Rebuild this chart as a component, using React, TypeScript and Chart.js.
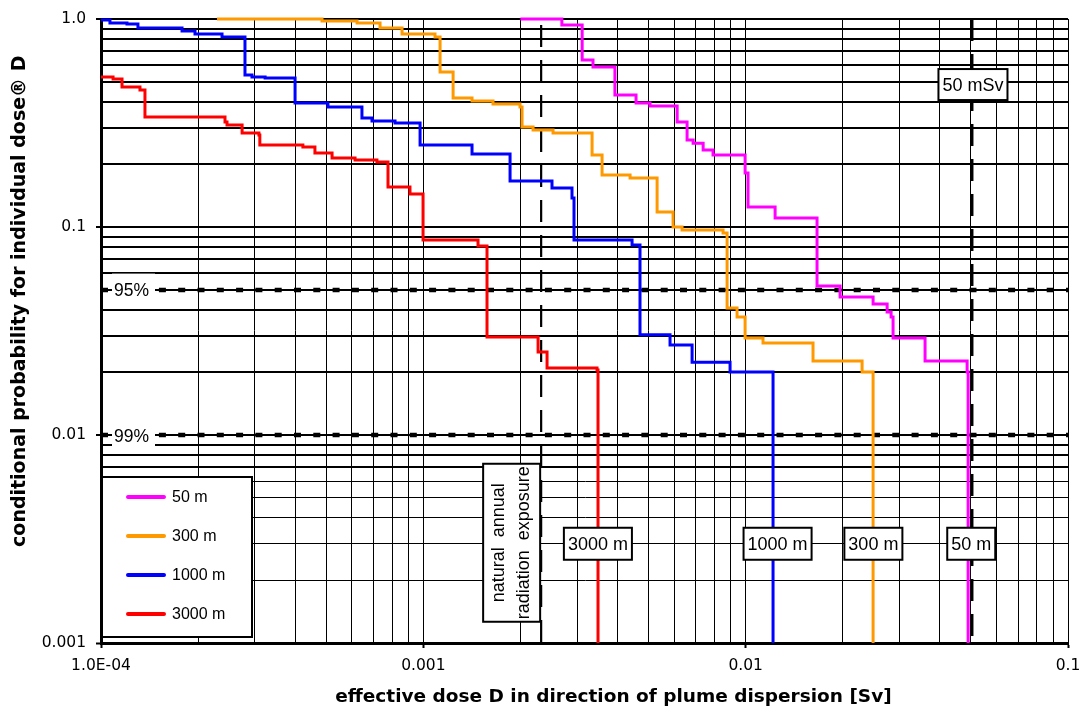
import React, { useEffect, useRef } from 'react';
import { Chart, registerables } from 'chart.js';

Chart.register(...registerables);

const FONT = '"Liberation Sans", Arial, Helvetica, sans-serif';
const AXIS_FONT = '"DejaVu Sans", Verdana, sans-serif';

// ---------------- data ----------------
const seriesNames = ['50 m', '300 m', '1000 m', '3000 m'];
const seriesColors = ['#FF00FF', '#FF9900', '#0000FF', '#FF0000'];

const dose50m = [0.002, 0.00269, 0.00311, 0.00336, 0.00393, 0.00457, 0.00505, 0.00613, 0.00658, 0.00687, 0.00738, 0.00792, 0.00996, 0.01017, 0.01234, 0.01665, 0.01963, 0.02485, 0.02747, 0.02826, 0.02866, 0.03602, 0.04864, 0.049];
const prob50m = [1.0, 0.936, 0.635, 0.588, 0.431, 0.395, 0.382, 0.32, 0.262, 0.253, 0.2345, 0.222, 0.1818, 0.1248, 0.1105, 0.052, 0.0461, 0.0426, 0.039, 0.0369, 0.02925, 0.0227, 0.0201, 0.001];

const dose300m = [0.000229, 0.000485, 0.000623, 0.000734, 0.000859, 0.001087, 0.001127, 0.001237, 0.001416, 0.001645, 0.001995, 0.002024, 0.00219, 0.002526, 0.003338, 0.003585, 0.004379, 0.005312, 0.005954, 0.006349, 0.00851, 0.008757, 0.009404, 0.00996, 0.01132, 0.01618, 0.02297, 0.02485];
const prob300m = [1.0, 0.978, 0.957, 0.905, 0.847, 0.819, 0.556, 0.417, 0.403, 0.39, 0.377, 0.3026, 0.2927, 0.283, 0.222, 0.1778, 0.172, 0.118, 0.1, 0.0967, 0.0936, 0.0408, 0.0369, 0.02925, 0.0277, 0.0227, 0.0201, 0.001];

const dose1000m = [0.0001, 0.0001066, 0.0001204, 0.0001302, 0.0001784, 0.0001957, 0.0002374, 0.0002797, 0.000294, 0.000323, 0.0004, 0.000506, 0.000645, 0.000693, 0.000817, 0.000977, 0.001416, 0.001858, 0.002507, 0.002892, 0.002934, 0.004442, 0.004701, 0.005826, 0.00682, 0.008945, 0.01216];
const prob1000m = [0.989, 0.957, 0.946, 0.905, 0.876, 0.847, 0.819, 0.538, 0.526, 0.52, 0.395, 0.377, 0.334, 0.3233, 0.316, 0.248, 0.2244, 0.1664, 0.154, 0.1379, 0.0866, 0.0819, 0.0303, 0.0271, 0.0224, 0.0201, 0.001];

const dose3000m = [0.0001, 0.000109, 0.0001162, 0.0001321, 0.0001369, 0.0002425, 0.000246, 0.000274, 0.000309, 0.000311, 0.000423, 0.000461, 0.000521, 0.000614, 0.000718, 0.000777, 0.000909, 0.000998, 0.001478, 0.001576, 0.00227, 0.00242, 0.003458, 0.003483];
const prob3000m = [0.526, 0.515, 0.471, 0.456, 0.338, 0.32, 0.309, 0.283, 0.277, 0.248, 0.2425, 0.227, 0.2146, 0.21, 0.2054, 0.1557, 0.1441, 0.0866, 0.081, 0.0296, 0.02506, 0.021, 0.02054, 0.001];

const xDecades = [0.0001, 0.001, 0.01, 0.1];
const xDecadeLabels = ['1.0E-04', '0.001', '0.01', '0.1'];
const yDecades = [0.001, 0.01, 0.1, 1];
const yDecadeLabels = ['0.001', '0.01', '0.1', '1.0'];
const gridMultipliers = [1, 2, 3, 4, 5, 6, 7, 8, 9];

const naturalExposureDose = 0.00232;
const naturalExposureText = ['natural  annual', 'radiation  exposure'];
const limitDose = 0.05;
const limitText = '50 mSv';
const limitTextProb = 0.484;
const percentileProbs = [0.05, 0.01];
const percentileTexts = ['95%', '99%'];
const endLabelDose = [0.0501, 0.0249, 0.01256, 0.00348];
const endLabelProb = 0.003;

const titleLead = '         ';
const xTitle = titleLead + 'effective dose D in direction of plume dispersion [Sv]';
const yTitle = titleLead + 'conditional probability for individual dose\u00AE D';

// ---------------- helpers ----------------
const buildLogTicks = (decades: number[]) => {
  const values: number[] = [];
  decades.forEach((d, i) => {
    if (i === decades.length - 1) values.push(d);
    else gridMultipliers.forEach((m) => values.push(d * m));
  });
  return values;
};
const decadeIndex = (v: number, decades: number[]) =>
  decades.findIndex((d) => Math.abs(v / d - 1) < 1e-6);

const font = (size: number, bold = false) => `${bold ? 'bold ' : ''}${size}px ${FONT}`;

const overlayPlugin = {
  id: 'overlay',
  beforeDatasetsDraw(chart: any) {
    const { ctx, chartArea: a, scales } = chart;
    const x = scales.x;
    const y = scales.y;
    ctx.save();
    ctx.strokeStyle = '#000';
    // percentile dashed lines
    percentileProbs.forEach((p) => {
      const py = Math.round(y.getPixelForValue(p));
      ctx.lineWidth = 4.5;
      ctx.setLineDash([7, 12.3]);
      ctx.beginPath();
      ctx.moveTo(a.left, py);
      ctx.lineTo(a.right, py);
      ctx.stroke();
    });
    // natural exposure vertical dashed
    const nx = x.getPixelForValue(naturalExposureDose);
    ctx.lineWidth = 2.2;
    ctx.setLineDash([22, 13]);
    ctx.beginPath();
    ctx.moveTo(nx, a.top + 6);
    ctx.lineTo(nx, a.bottom);
    ctx.stroke();
    // 50 mSv vertical dashed
    const lx = x.getPixelForValue(limitDose);
    ctx.lineWidth = 3;
    ctx.beginPath();
    ctx.moveTo(lx + 1, a.top);
    ctx.lineTo(lx + 1, a.bottom);
    ctx.stroke();
    ctx.restore();
  },
  afterDatasetsDraw(chart: any) {
    const { ctx, chartArea: a, scales } = chart;
    const x = scales.x;
    const y = scales.y;
    ctx.save();
    ctx.setLineDash([]);

    // percentile labels
    percentileProbs.forEach((p, i) => {
      const py = y.getPixelForValue(p);
      ctx.fillStyle = '#fff';
      ctx.fillRect(a.left + 11, py - 16, 43, 29);
      ctx.fillStyle = '#000';
      ctx.font = font(17.5);
      ctx.textAlign = 'left';
      ctx.textBaseline = 'middle';
      ctx.fillText(percentileTexts[i], a.left + 13, py + 2);
    });

    const box = (cx: number, cy: number, w: number, h: number) => {
      ctx.fillStyle = '#fff';
      ctx.fillRect(cx - w / 2, cy - h / 2, w, h);
      ctx.strokeStyle = '#000';
      ctx.lineWidth = 2;
      ctx.strokeRect(cx - w / 2, cy - h / 2, w, h);
    };

    // end labels for each series
    ctx.font = font(18);
    seriesNames.forEach((name, i) => {
      const cx = x.getPixelForValue(endLabelDose[i]);
      const cy = y.getPixelForValue(endLabelProb);
      const w = ctx.measureText(name).width + 8;
      box(cx, cy, w, 32);
      ctx.fillStyle = '#000';
      ctx.textAlign = 'center';
      ctx.textBaseline = 'middle';
      ctx.fillText(name, cx, cy + 1);
    });

    // 50 mSv label
    {
      const cx = x.getPixelForValue(limitDose) + 2;
      const cy = y.getPixelForValue(limitTextProb);
      const w = ctx.measureText(limitText).width + 8;
      box(cx, cy, w, 31);
      ctx.fillStyle = '#000';
      ctx.textAlign = 'center';
      ctx.textBaseline = 'middle';
      ctx.fillText(limitText, cx, cy + 1);
    }

    // natural exposure label (rotated)
    {
      const nx = x.getPixelForValue(naturalExposureDose);
      const cy = y.getPixelForValue(endLabelProb) - 1;
      const w = 57;
      const h = 158;
      const cx = nx - w / 2 - 1;
      box(cx, cy, w, h);
      ctx.save();
      ctx.translate(cx, cy);
      ctx.rotate(-Math.PI / 2);
      ctx.fillStyle = '#000';
      ctx.textAlign = 'center';
      ctx.textBaseline = 'middle';
      ctx.font = font(18);
      ctx.fillText(naturalExposureText[0], 0, -12.5);
      ctx.fillText(naturalExposureText[1], 0, 12.5);
      ctx.restore();
    }

    // legend
    {
      const left = a.left + 1;
      const bottom = a.bottom - 6;
      const w = 150;
      const h = 160;
      const top = bottom - h;
      ctx.fillStyle = '#fff';
      ctx.fillRect(left, top, w, h);
      ctx.strokeStyle = '#000';
      ctx.lineWidth = 2;
      ctx.strokeRect(left, top, w, h);
      ctx.font = font(16);
      ctx.textAlign = 'left';
      ctx.textBaseline = 'middle';
      seriesNames.forEach((name, i) => {
        const ry = top + 20 + i * 39;
        ctx.strokeStyle = seriesColors[i];
        ctx.lineWidth = 4;
        ctx.lineCap = 'round';
        ctx.beginPath();
        ctx.moveTo(left + 26, ry);
        ctx.lineTo(left + 62, ry);
        ctx.stroke();
        ctx.fillStyle = '#000';
        ctx.fillText(name, left + 70, ry + 1);
      });
    }
    ctx.restore();
  },
};

const seriesDose = [dose50m, dose300m, dose1000m, dose3000m];
const seriesProb = [prob50m, prob300m, prob1000m, prob3000m];

export default function App() {
  const ref = useRef<HTMLCanvasElement>(null);
  useEffect(() => {
    const chart = new Chart(ref.current as HTMLCanvasElement, {
      type: 'line',
      data: {
        datasets: seriesNames.map((name, i) => ({
          label: name,
          data: seriesDose[i].map((d, j) => ({ x: d, y: seriesProb[i][j] })),
          borderColor: seriesColors[i],
          backgroundColor: seriesColors[i],
          borderWidth: 3,
          pointRadius: 0,
          stepped: 'before',
          fill: false,
          clip: 4,
        })),
      } as any,
      options: {
        responsive: false,
        maintainAspectRatio: false,
        animation: false,
        devicePixelRatio: 1,
        layout: { padding: { top: 19, right: 13, bottom: 0, left: 0 } },
        plugins: { legend: { display: false }, tooltip: { enabled: false } },
        scales: {
          x: {
            type: 'logarithmic',
            min: 0.0001,
            max: 0.1,
            afterBuildTicks: (scale: any) => {
              scale.ticks = buildLogTicks(xDecades).map((value) => ({ value }));
            },
            afterFit: (scale: any) => {
              scale.height = 72;
              scale.paddingLeft = 0;
              scale.paddingRight = 0;
            },
            ticks: {
              autoSkip: false,
              maxRotation: 0,
              minRotation: 0,
              padding: 9,
              color: '#000',
              font: { family: AXIS_FONT, size: 15.5 },
              callback: (value: any) => {
                const i = decadeIndex(Number(value), xDecades);
                return i >= 0 ? xDecadeLabels[i] : '';
              },
            },
            grid: {
              color: '#000',
              lineWidth: 1,
              tickLength: 5,
              tickWidth: 2,
              tickColor: (c: any) =>
                c.tick && decadeIndex(c.tick.value, xDecades) >= 0 ? '#000' : 'rgba(0,0,0,0)',
            },
            border: { color: '#000', width: 3 },
            title: {
              display: true,
              text: xTitle,
              color: '#000',
              font: { family: AXIS_FONT, size: 18.5, weight: 'bold' },
              padding: { top: 0, bottom: 7 },
            },
          },
          y: {
            type: 'logarithmic',
            min: 0.001,
            max: 1,
            afterBuildTicks: (scale: any) => {
              scale.ticks = buildLogTicks(yDecades).map((value) => ({ value }));
            },
            afterFit: (scale: any) => {
              scale.width = 101;
              scale.paddingTop = 0;
              scale.paddingBottom = 0;
            },
            ticks: {
              autoSkip: false,
              padding: 10,
              color: '#000',
              font: { family: AXIS_FONT, size: 15.5 },
              callback: (value: any) => {
                const i = decadeIndex(Number(value), yDecades);
                return i >= 0 ? yDecadeLabels[i] : '';
              },
            },
            grid: {
              color: '#000',
              lineWidth: (c: any) => (c.tick && c.tick.value >= 0.0069 ? 2 : 1),
              tickLength: 5,
              tickWidth: 2,
              tickColor: (c: any) =>
                c.tick && decadeIndex(c.tick.value, yDecades) >= 0 ? '#000' : 'rgba(0,0,0,0)',
            },
            border: { color: '#000', width: 3 },
            title: {
              display: true,
              text: yTitle,
              color: '#000',
              font: { family: AXIS_FONT, size: 19, weight: 'bold' },
              padding: { top: 9, bottom: 0 },
            },
          },
        },
      } as any,
      plugins: [overlayPlugin],
    });
    return () => chart.destroy();
  }, []);

  return (
    <div style={{ position: 'absolute', left: 0, top: 0, width: 1081, height: 715, background: '#fff' }}>
      <canvas ref={ref} width={1081} height={715} style={{ display: 'block', width: 1081, height: 715 }} />
    </div>
  );
}
